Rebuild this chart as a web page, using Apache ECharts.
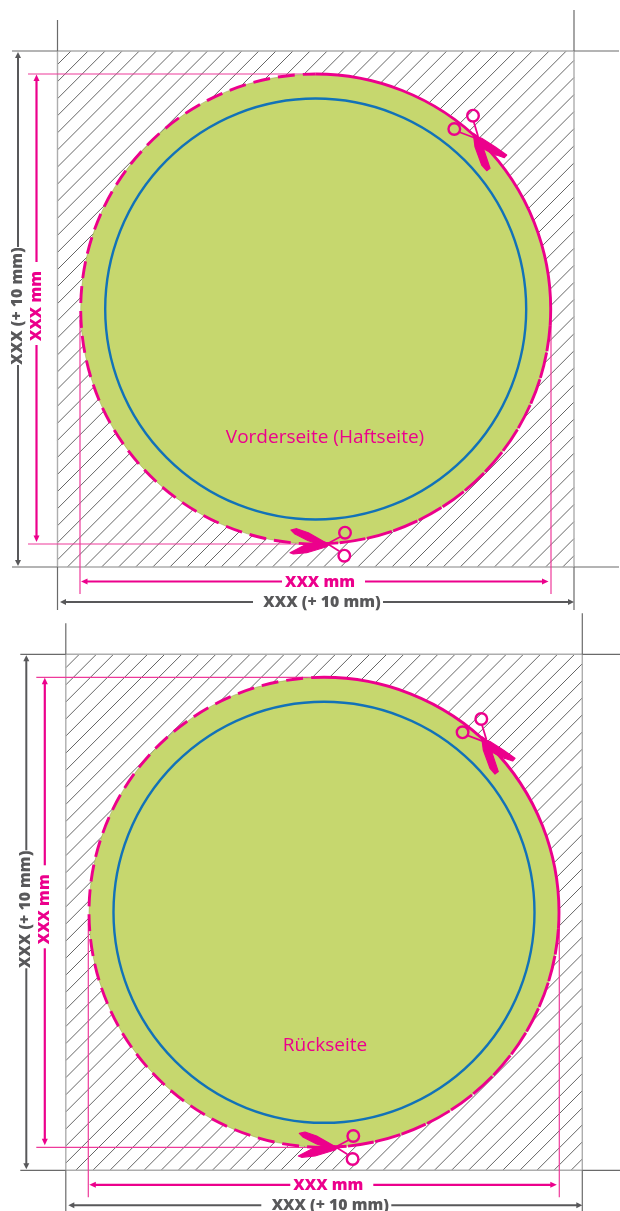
<!DOCTYPE html>
<html><head><meta charset="utf-8">
<style>html,body{margin:0;padding:0;background:#fff}#c{width:620px;height:1211px}</style>
<script src="https://cdn.jsdelivr.net/npm/echarts@6/dist/echarts.min.js"></script>
</head><body><div id="c"></div>
<script>
const panelShifts = [[0,0],[8.3,603.3]];
const pageTitles = ['Vorderseite (Haftseite)','Rückseite'];
const titleAnchors = [[325,438],[325,1046]];
const bleedBox = [57.5,51,574,567];
const circleCentre = [315.7,309];
const cutRadius = 235;
const safeRadius = 210.5;
const hatchIntercepts = [122,139.1,156.2,173.2,190.3,207.4,224.5,241.6,258.6,275.7,292.8,309.9,327,344,361.1,378.2,395.3,412.4,429.4,446.5,463.6,480.7,497.8,514.8,531.9,549,566.1,583.2,600.2,617.3,634.4,651.5,668.6,685.6,702.7,719.8,736.9,754,771,788.1,805.2,822.3,839.4,856.4,873.5,890.6,907.7,924.8,941.8,958.9,976,993.1,1010.2,1027.2,1044.3,1061.4,1078.5,1095.6,1112.6,1129.7];
const cropMarks = [[57.5,20,57.5,51],[12,51,57.5,51],[12,567,57.5,567],[57.5,567,57.5,610],[574,10,574,51],[574,51,619,51],[574,567,619,567],[574,567,574,610]];
const helperLines = [[28,74,305,74],[28,544,300,544],[80,320,80,594],[551,320,551,594]];
const greyDims = [[18,57,18,247],[18,365,18,561],[64,602,253,602],[383,602,570,602]];
const pinkDims = [[36.5,80,36.5,262],[36.5,345,36.5,537],[86,581.5,282,581.5],[365,581.5,544,581.5]];
const greyHeads = [[18,52,15,58,21,58],[18,566,15,560,21,560],[60,602,66,599,66,605],[574,602,568,599,568,605]];
const pinkHeads = [[36.5,74.5,33.5,81,39.5,81],[36.5,542,33.5,535.5,39.5,535.5],[81,581.5,87.5,578.5,87.5,584.5],[548.5,581.5,542,578.5,542,584.5]];
const dimLabels = ['XXX (+ 10 mm)','XXX mm','XXX mm','XXX (+ 10 mm)'];
const dimLabelAnchors = [[17,306],[36,306],[320,582],[322,602]];
const dimLabelTurned = [1,1,0,0];
const dimLabelGrey = [1,0,0,1];
const bladePolygons = [
 [291,530,296.7,528.7,308.3,532.7,326.7,543.3,324.3,546,308.3,540.7,295,534],
 [290,552.7,305,545,321.7,541.7,330,543.3,326.7,546.7,306.7,552.7,293.3,554],
 [473.3,133.3,478.3,136.7,483.3,148.3,490,168.3,486.7,170.7,481.7,165,475,146.7],
 [473.3,135,481.7,138.3,495,146.7,506.7,155,504.3,157.7,491.7,153.3,480,146.7,475.7,141.7]
];
const scissorRings = [[345,532.7],[344.3,555.7],[473,115.7],[454.3,129]];
const scissorHandles = [[325,545,340,537],[326.7,543.3,339,551],[473.5,121,478,136],[459,132,475,138]];

const C = {pink:'#ec008c',helper:'#ee3a9a',grey:'#58585a',hatch:'#666666',mark:'#6a6a6a',box:'#adadad',green:'#c6d76e',blue:'#1272b8'};
const FONT = '"Open Sans"';

function shiftSeg(s,sh){ return [s[0]+sh[0],s[1]+sh[1],s[2]+sh[0],s[3]+sh[1]]; }
function shiftPoly(p,sh){ return p.map((v,i)=>v+sh[i%2]); }
function hatchSegment(k){
  const [l,t,r,b]=bleedBox;
  let x1=k-t,y1=t; if(x1>r){x1=r;y1=k-r;}
  let x2=l,y2=k-l; if(y2>b){y2=b;x2=k-b;}
  return [x1,y1,x2,y2];
}
function segSeries(name,rows,color,width){
  return {type:'custom',name,coordinateSystem:'cartesian2d',silent:true,data:rows,
    renderItem:(p,api)=>{const a=api.coord([api.value(0),api.value(1)]),b=api.coord([api.value(2),api.value(3)]);
      return {type:'line',shape:{x1:a[0],y1:a[1],x2:b[0],y2:b[1]},style:{stroke:color,lineWidth:width,fill:null}};}};
}
function polySeries(name,polys,color,outline){
  return {type:'custom',name,coordinateSystem:'cartesian2d',silent:true,data:polys.map(p=>[p[0],p[1]]),
    renderItem:(p,api)=>{const q=polys[p.dataIndex],pts=[];
      for(let i=0;i<q.length;i+=2)pts.push(api.coord([q[i],q[i+1]]));
      return {type:'polygon',shape:{points:pts},style:{fill:color,stroke:color,lineWidth:outline,lineJoin:'round'}};}};
}
function circleSeries(name,centre,r,fill,stroke,width){
  return {type:'custom',name,coordinateSystem:'cartesian2d',silent:true,data:[[centre[0],centre[1],r]],
    renderItem:(p,api)=>{const c=api.coord([api.value(0),api.value(1)]),R=api.size([api.value(2),0])[0];
      return {type:'circle',shape:{cx:c[0],cy:c[1],r:R},style:{fill:fill,stroke:stroke,lineWidth:width}};}};
}
function arcSeries(name,centre,r,a0,a1,dash){
  return {type:'custom',name,coordinateSystem:'cartesian2d',silent:true,data:[[centre[0],centre[1],r]],
    renderItem:(p,api)=>{const c=api.coord([api.value(0),api.value(1)]),R=api.size([api.value(2),0])[0];
      return {type:'arc',shape:{cx:c[0],cy:c[1],r:R,startAngle:a0*Math.PI/180,endAngle:a1*Math.PI/180,clockwise:true},
        style:{fill:null,stroke:C.pink,lineWidth:2.9,lineDash:dash}};}};
}
function textSeries(name,texts,anchors,turned,colors,size,weight){
  return {type:'custom',name,coordinateSystem:'cartesian2d',silent:true,data:anchors,
    renderItem:(p,api)=>{const c=api.coord([api.value(0),api.value(1)]);
      return {type:'text',x:c[0],y:c[1],rotation:turned[p.dataIndex]?Math.PI/2:0,
        style:{text:texts[p.dataIndex],x:0,y:0,align:'center',verticalAlign:'middle',fontFamily:FONT,fontSize:size,fontWeight:weight,fill:colors[p.dataIndex]}};}};
}

const series=[];
panelShifts.forEach((sh,pi)=>{
  const [l,t,r,b]=bleedBox;
  const centre=[circleCentre[0]+sh[0],circleCentre[1]+sh[1]];
  series.push(segSeries('hatch',hatchIntercepts.map(k=>shiftSeg(hatchSegment(k),sh)),C.hatch,1));
  series.push(segSeries('box',[[l,t,r,t],[r,t,r,b],[r,b,l,b],[l,b,l,t]].map(s=>shiftSeg(s,sh)),C.box,1.4));
  series.push(segSeries('marks',cropMarks.map(s=>shiftSeg(s,sh)),C.mark,1.2));
  series.push(segSeries('helpers',helperLines.map(s=>shiftSeg(s,sh)),C.helper,1.2));
  series.push(circleSeries('cut',centre,cutRadius,C.green,'#9aa05c',0.5));
  series.push(circleSeries('safe',centre,safeRadius,'none',C.blue,2.4));
  series.push(arcSeries('cutTop',centre,cutRadius,-90,4,null));
  series.push(arcSeries('cutBottom',centre,cutRadius,4,90,[26,1.5]));
  series.push(arcSeries('cutLeft',centre,cutRadius,90,270,[17,8]));
  series.push(polySeries('blades',bladePolygons.map(p=>shiftPoly(p,sh)),C.pink,1.2));
  series.push(segSeries('handles',scissorHandles.map(s=>shiftSeg(s,sh)),C.pink,1.8));
  scissorRings.forEach(ring=>series.push(circleSeries('ring',[ring[0]+sh[0],ring[1]+sh[1]],5.8,'none',C.pink,2.4)));
  series.push(segSeries('greyDim',greyDims.map(s=>shiftSeg(s,sh)),C.grey,2));
  series.push(segSeries('pinkDim',pinkDims.map(s=>shiftSeg(s,sh)),C.pink,2.2));
  series.push(polySeries('greyHead',greyHeads.map(p=>shiftPoly(p,sh)),C.grey,0));
  series.push(polySeries('pinkHead',pinkHeads.map(p=>shiftPoly(p,sh)),C.pink,0));
  series.push(textSeries('dimLabels',dimLabels,dimLabelAnchors.map(a=>[a[0]+sh[0],a[1]+sh[1]]),dimLabelTurned,dimLabelGrey.map(g=>g?C.grey:C.pink),15.8,800));
  series.push(textSeries('page',[pageTitles[pi]],[titleAnchors[pi]],[0],[C.pink],19,400));
});
const chart=echarts.init(document.getElementById('c'),null,{renderer:'canvas'});
chart.setOption({animation:false,backgroundColor:'#ffffff',tooltip:{show:false},legend:{show:false},
  grid:{left:0,right:0,top:0,bottom:0,containLabel:false},
  xAxis:{type:'value',min:0,max:620,show:false},
  yAxis:{type:'value',min:0,max:1211,inverse:true,show:false},
  series:series});
</script></body></html>
